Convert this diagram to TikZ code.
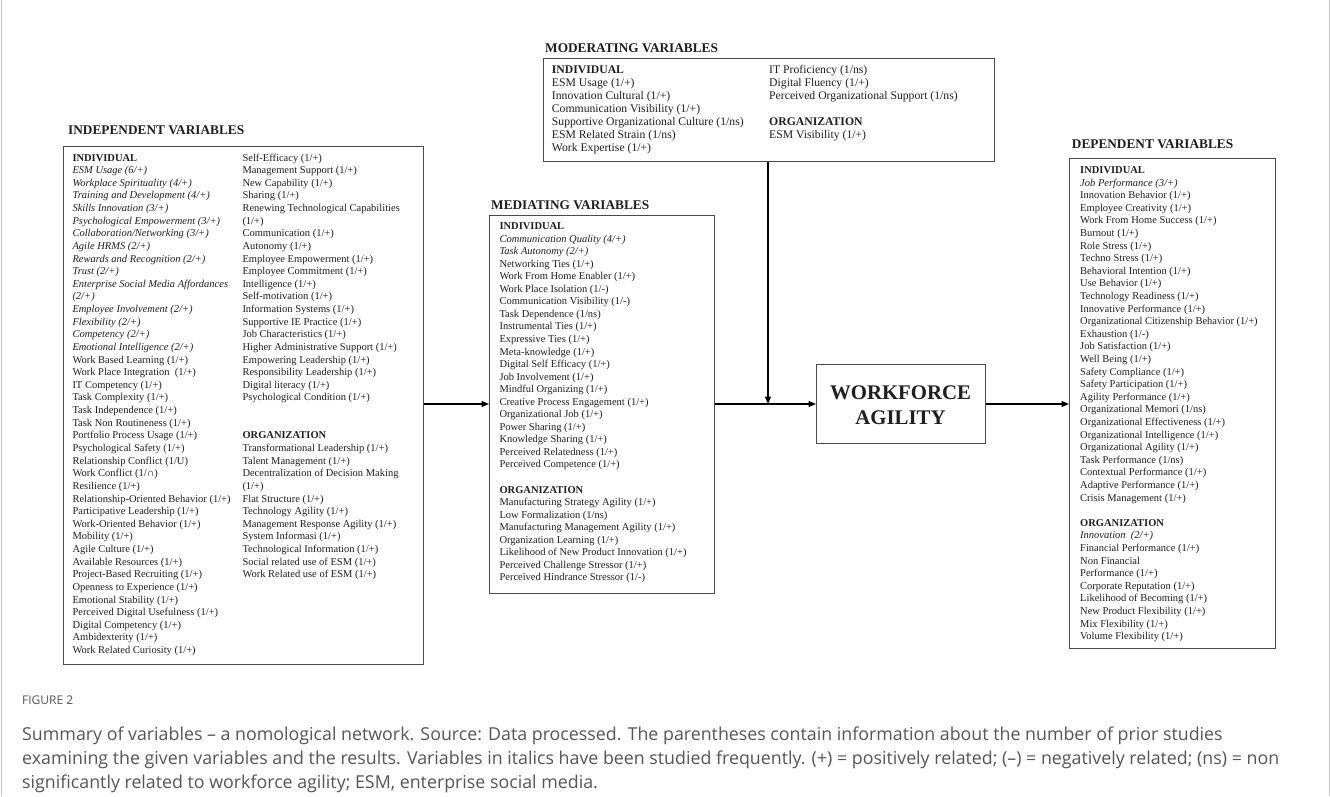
\documentclass[tikz,border=0pt]{standalone}
\usepackage{fontspec}
\setmainfont{Liberation Serif}
\newfontfamily\capfont{Open Sans}
\usetikzlibrary{arrows.meta}
\definecolor{boxline}{HTML}{4A4A4A}
\definecolor{txt}{HTML}{1E1E1E}
\definecolor{capgray}{HTML}{555555}
\definecolor{framegray}{HTML}{C8C8C8}
\tikzset{
  vbox/.style={draw=boxline, line width=1.2pt, inner sep=0pt, anchor=north west},
  ln/.style={anchor=base west, inner sep=0pt, text=txt, font=\fontsize{10.5}{12.6}\selectfont},
  lnm/.style={anchor=base west, inner sep=0pt, text=txt, font=\fontsize{11.7}{13}\selectfont},
  ttl/.style={anchor=base west, inner sep=0pt, text=txt, font=\fontsize{13.3}{15}\selectfont\bfseries},
  arr/.style={line width=1.3pt, -{Triangle[length=7.5pt,width=6pt]}},
  captxt/.style={anchor=base west, inner sep=0pt, text=capgray, font=\capfont\fontsize{17.8}{24}\selectfont},
}
\begin{document}
\begin{tikzpicture}[x=1pt,y=-1pt]
\useasboundingbox (0,0) rectangle (1330,796);
\draw[framegray, line width=1pt] (1,0) -- (1,796);
\draw[framegray, line width=1pt] (1329,0) -- (1329,796);

% ---------- boxes ----------
\node[vbox, minimum width=359.7pt, minimum height=518pt] (indep) at (63,146) {};
\node[vbox, minimum width=451pt, minimum height=103pt] (mod) at (543,58) {};
\node[vbox, minimum width=224.5pt, minimum height=378pt] (med) at (489,214.5) {};
\node[vbox, minimum width=206pt, minimum height=490pt] (dep) at (1069,158) {};
\node[vbox, minimum width=169pt, minimum height=79pt] (wa) at (816,364) {};
\node[anchor=base, inner sep=0pt, font=\fontsize{20.8}{25}\selectfont\bfseries, text=txt] (wa1) at (900.5,399.5) {WORKFORCE};
\node[anchor=base, inner sep=0pt, font=\fontsize{20.8}{25}\selectfont\bfseries, text=txt] (wa2) at (900.5,424.8) {AGILITY};

% ---------- titles ----------
\node[ttl] (tind) at (68,134.5) {INDEPENDENT VARIABLES};
\node[ttl] (tmod) at (545,52.8) {MODERATING VARIABLES};
\node[ttl] (tmed) at (491,209.5) {MEDIATING VARIABLES};
\node[ttl] (tdep) at (1071.7,148.4) {DEPENDENT VARIABLES};

% ---------- independent, left column ----------
\foreach \t [count=\i from 0] in {
  {\textbf{INDIVIDUAL}},
  {\textit{ESM Usage (6/+)}},
  {\textit{Workplace Spirituality (4/+)}},
  {\textit{Training and Development (4/+)}},
  {\textit{Skills Innovation (3/+)}},
  {\textit{Psychological Empowerment (3/+)}},
  {\textit{Collaboration/Networking (3/+)}},
  {\textit{Agile HRMS (2/+)}},
  {\textit{Rewards and Recognition (2/+)}},
  {\textit{Trust (2/+)}},
  {\textit{Enterprise Social Media Affordances}},
  {\textit{(2/+)}},
  {\textit{Employee Involvement (2/+)}},
  {\textit{Flexibility (2/+)}},
  {\textit{Competency (2/+)}},
  {\textit{Emotional Intelligence (2/+)}},
  {Work Based Learning (1/+)},
  {Work Place Integration\ \ (1/+)},
  {IT Competency (1/+)},
  {Task Complexity (1/+)},
  {Task Independence (1/+)},
  {Task Non Routineness (1/+)},
  {Portfolio Process Usage (1/+)},
  {Psychological Safety (1/+)},
  {Relationship Conflict (1/U)},
  {Work Conflict (1/∩)},
  {Resilience (1/+)},
  {Relationship-Oriented Behavior (1/+)},
  {Participative Leadership (1/+)},
  {Work-Oriented Behavior (1/+)},
  {Mobility (1/+)},
  {Agile Culture (1/+)},
  {Available Resources (1/+)},
  {Project-Based Recruiting (1/+)},
  {Openness to Experience (1/+)},
  {Emotional Stability (1/+)},
  {Perceived Digital Usefulness (1/+)},
  {Digital Competency (1/+)},
  {Ambidexterity (1/+)},
  {Work Related Curiosity (1/+)}}
  \node[ln] (il\i) at (72.3,161+\i*12.63) {\t};

% ---------- independent, right column ----------
\foreach \t [count=\i from 0] in {
  {Self-Efficacy (1/+)},
  {Management Support (1/+)},
  {New Capability (1/+)},
  {Sharing (1/+)},
  {Renewing Technological Capabilities},
  {(1/+)},
  {Communication (1/+)},
  {Autonomy (1/+)},
  {Employee Empowerment (1/+)},
  {Employee Commitment (1/+)},
  {Intelligence (1/+)},
  {Self-motivation (1/+)},
  {Information Systems (1/+)},
  {Supportive IE Practice (1/+)},
  {Job Characteristics (1/+)},
  {Higher Administrative Support (1/+)},
  {Empowering Leadership (1/+)},
  {Responsibility Leadership (1/+)},
  {Digital literacy (1/+)},
  {Psychological Condition (1/+)}}
  \node[ln] (ir\i) at (242.3,161+\i*12.63) {\t};
\foreach \t [count=\i from 22] in {
  {\textbf{ORGANIZATION}},
  {Transformational Leadership (1/+)},
  {Talent Management (1/+)},
  {Decentralization of Decision Making},
  {(1/+)},
  {Flat Structure (1/+)},
  {Technology Agility (1/+)},
  {Management Response Agility (1/+)},
  {System Informasi (1/+)},
  {Technological Information (1/+)},
  {Social related use of ESM (1/+)},
  {Work Related use of ESM (1/+)}}
  \node[ln] (ir\i) at (242.3,161+\i*12.63) {\t};

% ---------- moderating ----------
\foreach \t [count=\i from 0] in {
  {\textbf{INDIVIDUAL}},
  {ESM Usage (1/+)},
  {Innovation Cultural (1/+)},
  {Communication Visibility (1/+)},
  {Supportive Organizational Culture (1/ns)},
  {ESM Related Strain (1/ns)},
  {Work Expertise (1/+)}}
  \node[lnm] (ml\i) at (551.7,73.2+\i*13.07) {\t};
\foreach \t [count=\i from 0] in {
  {IT Proficiency (1/ns)},
  {Digital Fluency (1/+)},
  {Perceived Organizational Support (1/ns)}}
  \node[lnm] (mr\i) at (769,73.2+\i*13.07) {\t};
\foreach \t [count=\i from 4] in {
  {\textbf{ORGANIZATION}},
  {ESM Visibility (1/+)}}
  \node[lnm] (mr\i) at (769,73.2+\i*13.07) {\t};

% ---------- mediating ----------
\foreach \t [count=\i from 0] in {
  {\textbf{INDIVIDUAL}},
  {\textit{Communication Quality (4/+)}},
  {\textit{Task Autonomy (2/+)}},
  {Networking Ties (1/+)},
  {Work From Home Enabler (1/+)},
  {Work Place Isolation (1/-)},
  {Communication Visibility (1/-)},
  {Task Dependence (1/ns)},
  {Instrumental Ties (1/+)},
  {Expressive Ties (1/+)},
  {Meta-knowledge (1/+)},
  {Digital Self Efficacy (1/+)},
  {Job Involvement (1/+)},
  {Mindful Organizing (1/+)},
  {Creative Process Engagement (1/+)},
  {Organizational Job (1/+)},
  {Power Sharing (1/+)},
  {Knowledge Sharing (1/+)},
  {Perceived Relatedness (1/+)},
  {Perceived Competence (1/+)}}
  \node[ln] (dl\i) at (499.3,229.5+\i*12.55) {\t};
\foreach \t [count=\i from 21] in {
  {\textbf{ORGANIZATION}},
  {Manufacturing Strategy Agility (1/+)},
  {Low Formalization (1/ns)},
  {Manufacturing Management Agility (1/+)},
  {Organization Learning (1/+)},
  {Likelihood of New Product Innovation (1/+)},
  {Perceived Challenge Stressor (1/+)},
  {Perceived Hindrance Stressor (1/-)}}
  \node[ln] (dl\i) at (499.3,229.5+\i*12.55) {\t};

% ---------- dependent ----------
\foreach \t [count=\i from 0] in {
  {\textbf{INDIVIDUAL}},
  {\textit{Job Performance (3/+)}},
  {Innovation Behavior (1/+)},
  {Employee Creativity (1/+)},
  {Work From Home Success (1/+)},
  {Burnout (1/+)},
  {Role Stress (1/+)},
  {Techno Stress (1/+)},
  {Behavioral Intention (1/+)},
  {Use Behavior (1/+)},
  {Technology Readiness (1/+)},
  {Innovative Performance (1/+)},
  {Organizational Citizenship Behavior (1/+)},
  {Exhaustion (1/-)},
  {Job Satisfaction (1/+)},
  {Well Being (1/+)},
  {Safety Compliance (1/+)},
  {Safety Participation (1/+)},
  {Agility Performance (1/+)},
  {Organizational Memori (1/ns)},
  {Organizational Effectiveness (1/+)},
  {Organizational Intelligence (1/+)},
  {Organizational Agility (1/+)},
  {Task Performance (1/ns)},
  {Contextual Performance (1/+)},
  {Adaptive Performance (1/+)},
  {Crisis Management (1/+)}}
  \node[ln] (pl\i) at (1080,173.5+\i*12.6) {\t};
\foreach \t [count=\i from 28] in {
  {\textbf{ORGANIZATION}},
  {\textit{Innovation\ \ (2/+)}},
  {Financial Performance (1/+)},
  {Non Financial},
  {Performance (1/+)},
  {Corporate Reputation (1/+)},
  {Likelihood of Becoming (1/+)},
  {New Product Flexibility (1/+)},
  {Mix Flexibility (1/+)},
  {Volume Flexibility (1/+)}}
  \node[ln] (pl\i) at (1080,173.5+\i*12.6) {\t};

% ---------- connectors ----------
\coordinate (ay) at (0,404);
\coordinate (jn) at (768,404);
\draw[arr] (indep.east |- ay) -- (med.west |- ay);
\draw[arr] (med.east |- ay) -- (wa.west |- ay);
\draw[arr] (mod.south -| jn) -- (jn);
\draw[arr] (wa.east |- ay) -- (dep.west |- ay);

% ---------- caption ----------
\node[anchor=base west, inner sep=0pt, text=capgray, font=\capfont\fontsize{12}{14}\selectfont] (fig) at (22,704) {FIGURE 2};
\node[captxt] (c1) at (22,740) {Summary of variables – a nomological network. Source: Data processed. The parentheses contain information about the number of prior studies};
\node[captxt] (c2) at (22,764) {examining the given variables and the results. Variables in italics have been studied frequently. (+) = positively related; (–) = negatively related; (ns) = non};
\node[captxt] (c3) at (22,788) {significantly related to workforce agility; ESM, enterprise social media.};
\end{tikzpicture}
\end{document}
